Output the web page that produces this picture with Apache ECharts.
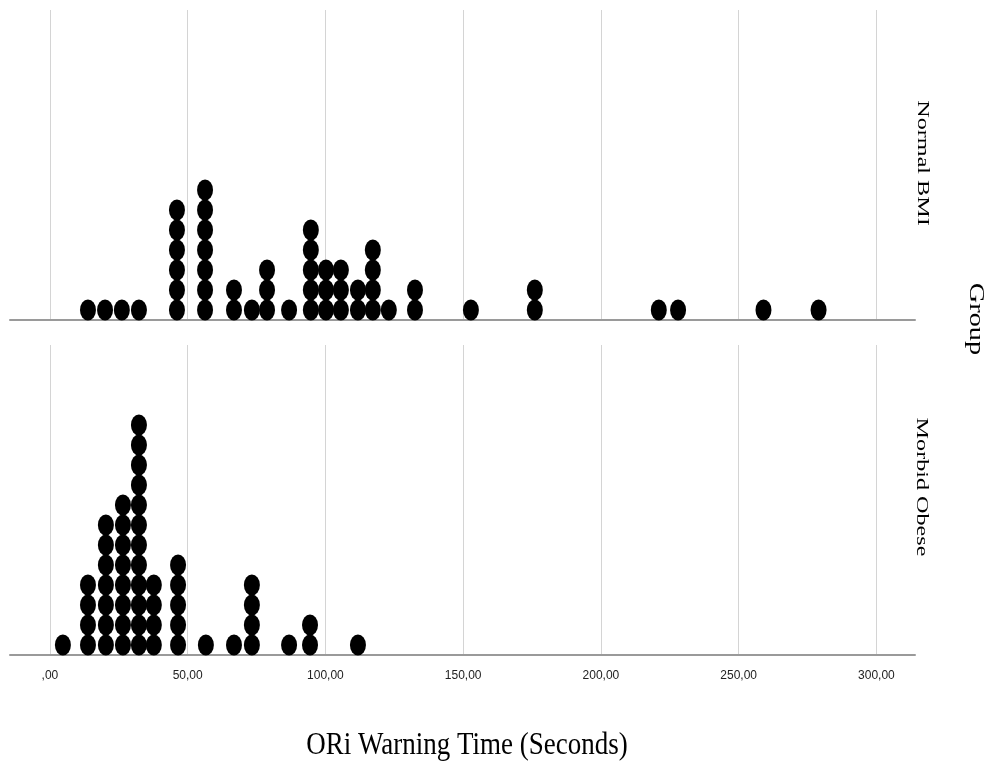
<!DOCTYPE html>
<html><head><meta charset="utf-8">
<script src="https://cdn.jsdelivr.net/npm/echarts@6/dist/echarts.min.js"></script>
<style>html,body{margin:0;padding:0;background:#fff}#c{width:992px;height:761px}</style>
</head><body><div id="c"></div>
<script>
const groups = ['Normal BMI', 'Morbid Obese'];
const groupTitle = 'Group';
const xTitle = 'ORi Warning Time (Seconds)';
const normalValues = [13.8, 20.0, 26.1, 32.3, 46.1, 56.3, 66.8, 73.3, 78.8, 86.8, 94.7, 100.2, 105.6, 111.8, 117.2, 123.0, 132.5, 152.8, 176.0, 221.0, 228.0, 259.0, 279.0];
const normalCounts = [1, 1, 1, 1, 6, 7, 2, 1, 3, 1, 5, 3, 3, 2, 4, 1, 2, 1, 2, 1, 1, 1, 1];
const obeseValues = [4.7, 13.8, 20.3, 26.5, 32.3, 37.7, 46.5, 56.6, 66.8, 73.3, 86.8, 94.4, 111.8];
const obeseCounts = [1, 4, 7, 8, 12, 4, 5, 1, 1, 4, 1, 2, 1];
const xTicks = [0, 50, 100, 150, 200, 250, 300];
const xTickLabels = [',00', '50,00', '100,00', '150,00', '200,00', '250,00', '300,00'];

function stackDots(values, counts) {
  const pts = [];
  values.forEach((v, i) => {
    for (let k = 1; k <= counts[i]; k++) pts.push([v, k - 0.5]);
  });
  return pts;
}

const chart = echarts.init(document.getElementById('c'));
const xMin = -14.5, xMax = 314;
function makeX(gridIndex, showLabels) {
  return {
    type: 'value', gridIndex, min: xMin, max: xMax, splitNumber: 6,
    axisLine: { show: true, onZero: false, lineStyle: { color: '#9a9a9a', width: 2 } },
    axisTick: { show: false },
    splitLine: { show: true, showMinLine: false, showMaxLine: false, lineStyle: { color: '#d4d4d4', width: 1 } },
    axisLabel: {
      show: showLabels, showMinLabel: false, showMaxLabel: false, margin: 15,
      fontFamily: '"Liberation Sans Narrow", "Liberation Sans", Arial', fontSize: 12, color: '#222',
      formatter: v => { const i = xTicks.indexOf(Math.round(v * 1000) / 1000); return i >= 0 ? xTickLabels[i] : ''; }
    }
  };
}
function makeY(gridIndex) {
  return { type: 'value', gridIndex, min: 0, max: 15.5, show: false, splitLine: { show: false } };
}
const dotStyle = { color: '#000', opacity: 1 };
const serif = '"Liberation Serif", "Times New Roman", serif';
chart.setOption({
  animation: false,
  backgroundColor: '#fff',
  grid: [
    { left: 10, right: 77, top: 10, height: 310 },
    { left: 10, right: 77, top: 345, height: 310 }
  ],
  xAxis: [makeX(0, false), makeX(1, true)],
  yAxis: [makeY(0), makeY(1)],
  series: [
    { name: groups[0], type: 'scatter', xAxisIndex: 0, yAxisIndex: 0, symbol: 'circle', symbolSize: [16, 21], itemStyle: dotStyle, data: stackDots(normalValues, normalCounts) },
    { name: groups[1], type: 'scatter', xAxisIndex: 1, yAxisIndex: 1, symbol: 'circle', symbolSize: [16, 21], itemStyle: dotStyle, data: stackDots(obeseValues, obeseCounts) }
  ],
  graphic: [
    { type: 'text', x: 922, y: 163, rotation: -Math.PI / 2, scaleX: 1.42, style: { text: groups[0], fontSize: 17, fontFamily: serif, fill: '#000', align: 'center', verticalAlign: 'middle' } },
    { type: 'text', x: 921, y: 487, rotation: -Math.PI / 2, scaleX: 1.42, style: { text: groups[1], fontSize: 17, fontFamily: serif, fill: '#000', align: 'center', verticalAlign: 'middle' } },
    { type: 'text', x: 976, y: 319, rotation: -Math.PI / 2, scaleX: 1.35, style: { text: groupTitle, fontSize: 21, fontFamily: serif, fill: '#000', align: 'center', verticalAlign: 'middle' } },
    { type: 'text', x: 467, y: 745, scaleY: 1.2, style: { text: xTitle, fontSize: 27, fontFamily: serif, fill: '#000', align: 'center', verticalAlign: 'middle' } }
  ]
});
</script></body></html>
